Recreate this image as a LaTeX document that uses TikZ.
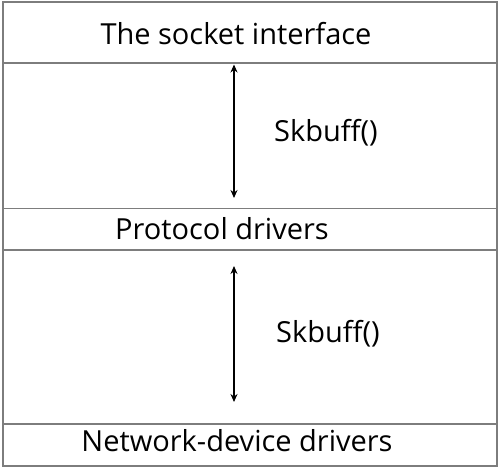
\documentclass[tikz,border=0pt]{standalone}
\usepackage{fontspec}
\setmainfont{Open Sans}
\usetikzlibrary{arrows.meta}
\definecolor{framegray}{RGB}{125,125,125}
\tikzset{
  frame/.style={draw=framegray, line width=1.5pt},
  lbl/.style={anchor=base, inner sep=0pt, font=\fontsize{29}{34}\selectfont},
  flow/.style={line width=1.4pt, {Stealth[length=8pt,width=7pt]}-{Stealth[length=8pt,width=7pt]}}
}
\begin{document}
\begin{tikzpicture}[x=1pt,y=-1pt]
\useasboundingbox (0,0) rectangle (500,470);
\fill[white] (0,0) rectangle (500,470);
\draw[frame] (3,2) rectangle (497,466);
\draw[frame] (3,63) -- (497,63);
\draw[frame] (3,208.5) -- (497,208.5);
\draw[frame] (3,250) -- (497,250);
\draw[frame] (3,424) -- (497,424);
\node[lbl] (sock) at (236,45) {The socket interface};
\node[lbl] (proto) at (222,240) {Protocol drivers};
\node[lbl] (netdev) at (237,451) {Network-device drivers};
\node[lbl] (sk1) at (326,142) {Skbuff()};
\node[lbl] (sk2) at (328,342) {Skbuff()};
\coordinate (a1) at (234,64.5);
\coordinate (b1) at (234,198);
\coordinate (a2) at (234,266);
\coordinate (b2) at (234,402);
\draw[flow] (a1) -- (b1);
\draw[flow] (a2) -- (b2);
\end{tikzpicture}
\end{document}
